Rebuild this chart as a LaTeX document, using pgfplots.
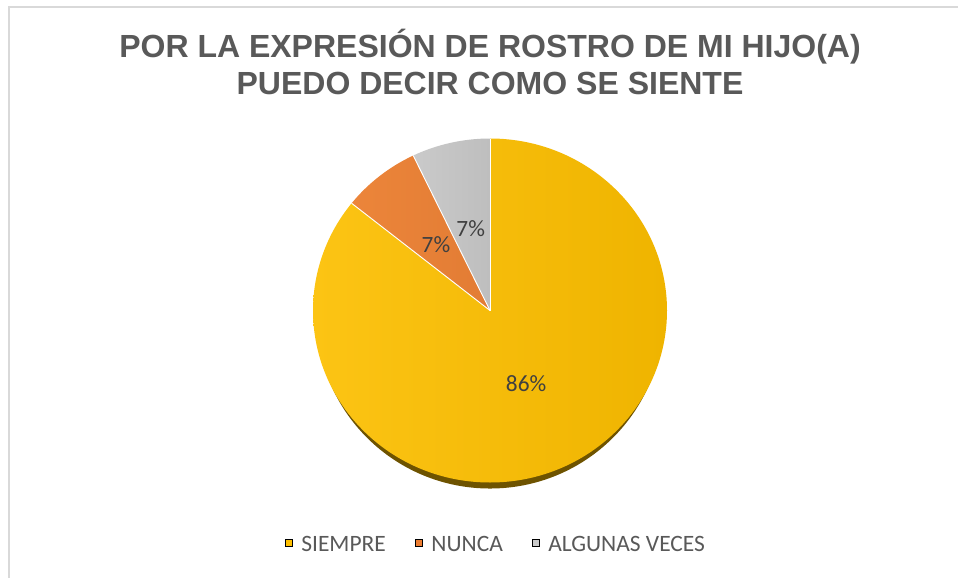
\documentclass[border=0pt]{standalone}
\usepackage{pgfplots}
\pgfplotsset{compat=1.18}
\usepackage{pgfplotstable}
\usepackage{fontspec}
\setmainfont{Carlito}
\newfontfamily\titlefont{Liberation Sans}

\definecolor{siempreL}{HTML}{FCC414}
\definecolor{siempreR}{HTML}{EFB400}
\definecolor{siempre}{HTML}{FFC000}
\definecolor{nuncaL}{HTML}{EC853A}
\definecolor{nuncaR}{HTML}{E27C34}
\definecolor{nunca}{HTML}{ED7D31}
\definecolor{algL}{HTML}{CACACA}
\definecolor{algR}{HTML}{BEBEBE}
\definecolor{alg}{HTML}{C9C9C9}
\definecolor{sombra}{HTML}{6E5300}
\definecolor{titlegray}{HTML}{595959}
\definecolor{labelgray}{HTML}{404040}
\definecolor{bordergray}{HTML}{D9D9D9}

% respuestas: SIEMPRE, NUNCA, ALGUNAS VECES
\pgfplotstableread{
cat value
SIEMPRE 12
NUNCA 1
ALGUNAS 1
}\piedata

\begin{document}
\begin{tikzpicture}[x=0.75pt,y=-0.75pt]
\path[use as bounding box] (0,0) rectangle (958,578);
\draw[bordergray, line width=1.2pt] (9,580) -- (9,7) -- (960,7);

\node[anchor=base, text=titlegray, inner sep=0pt,
      font=\titlefont\bfseries\fontsize{24}{28}\selectfont]
  at (490,57) {POR LA EXPRESIÓN DE ROSTRO DE MI HIJO(A)};
\node[anchor=base, text=titlegray, inner sep=0pt,
      font=\titlefont\bfseries\fontsize{24}{28}\selectfont]
  at (490,94) {PUEDO DECIR COMO SE SIENTE};

\pgfplotstablegetelem{0}{value}\of\piedata \let\vA\pgfplotsretval
\pgfplotstablegetelem{1}{value}\of\piedata \let\vB\pgfplotsretval
\pgfplotstablegetelem{2}{value}\of\piedata \let\vC\pgfplotsretval
\pgfmathsetmacro\tot{\vA+\vB+\vC}
\pgfmathsetmacro\aA{90}
\pgfmathsetmacro\aB{\aA-360*\vA/\tot}
\pgfmathsetmacro\aC{\aB-360*\vB/\tot}
\pgfmathsetmacro\aD{\aC-360*\vC/\tot}
\pgfmathsetmacro\mA{(\aA+\aB)/2}
\pgfmathsetmacro\mB{(\aB+\aC)/2}
\pgfmathsetmacro\mC{(\aC+\aD)/2}
\pgfmathtruncatemacro\pA{round(100*\vA/\tot)}
\pgfmathtruncatemacro\pB{round(100*\vB/\tot)}
\pgfmathtruncatemacro\pC{round(100*\vC/\tot)}

\begin{axis}[
  at={(367.5pt,-232.875pt)}, anchor=center,
  scale only axis,
  width=265.5pt, height=258pt,
  xmin=-1, xmax=1, ymin=-1, ymax=1,
  hide axis, clip=false,
  legend columns=3,
  legend image code/.code={\fill[#1] (0pt,-1.0pt) rectangle (5.25pt,4.25pt);},
  legend style={
    at={(0.518,-0.181)}, anchor=center,
    draw=none, fill=none,
    font=\fontsize{17.6}{20}\selectfont, text=titlegray,
    /tikz/every odd column/.append style={column sep=4.5pt},
    /tikz/every even column/.append style={column sep=20pt},
  },
]
\addlegendimage{fill=siempre}
\addlegendentry{SIEMPRE}
\addlegendimage{fill=nunca}
\addlegendentry{NUNCA}
\addlegendimage{fill=alg}
\addlegendentry{ALGUNAS VECES}

% sombra
\fill[sombra] (axis cs:0,-0.035) ellipse[x radius=130pt, y radius=129pt];

\shade[left color=siempreL, right color=siempreR]
  (axis cs:0,0) -- (axis cs:{cos(\aA)},{sin(\aA)})
  arc[start angle=\aA, end angle=\aB, x radius=132.75pt, y radius=129pt] -- cycle;
\shade[left color=nuncaL, right color=nuncaR]
  (axis cs:0,0) -- (axis cs:{cos(\aB)},{sin(\aB)})
  arc[start angle=\aB, end angle=\aC, x radius=132.75pt, y radius=129pt] -- cycle;
\shade[left color=algL, right color=algR]
  (axis cs:0,0) -- (axis cs:{cos(\aC)},{sin(\aC)})
  arc[start angle=\aC, end angle=\aD, x radius=132.75pt, y radius=129pt] -- cycle;

\draw[white, line width=0.7pt] (axis cs:0,0) -- (axis cs:{cos(\aA)},{sin(\aA)});
\draw[white, line width=0.7pt] (axis cs:0,0) -- (axis cs:{cos(\aB)},{sin(\aB)});
\draw[white, line width=0.7pt] (axis cs:0,0) -- (axis cs:{cos(\aC)},{sin(\aC)});

\node[font=\fontsize{17.5}{20}\selectfont, text=labelgray]
  at (axis cs:{0.47*cos(\mA)},{0.47*sin(\mA)}) {\pA\%};
\node[font=\fontsize{17.5}{20}\selectfont, text=labelgray]
  at (axis cs:{0.49*cos(\mB)},{0.49*sin(\mB)}) {\pB\%};
\node[font=\fontsize{17.5}{20}\selectfont, text=labelgray]
  at (axis cs:{0.49*cos(\mC)},{0.49*sin(\mC)}) {\pC\%};
\end{axis}
\end{tikzpicture}
\end{document}
